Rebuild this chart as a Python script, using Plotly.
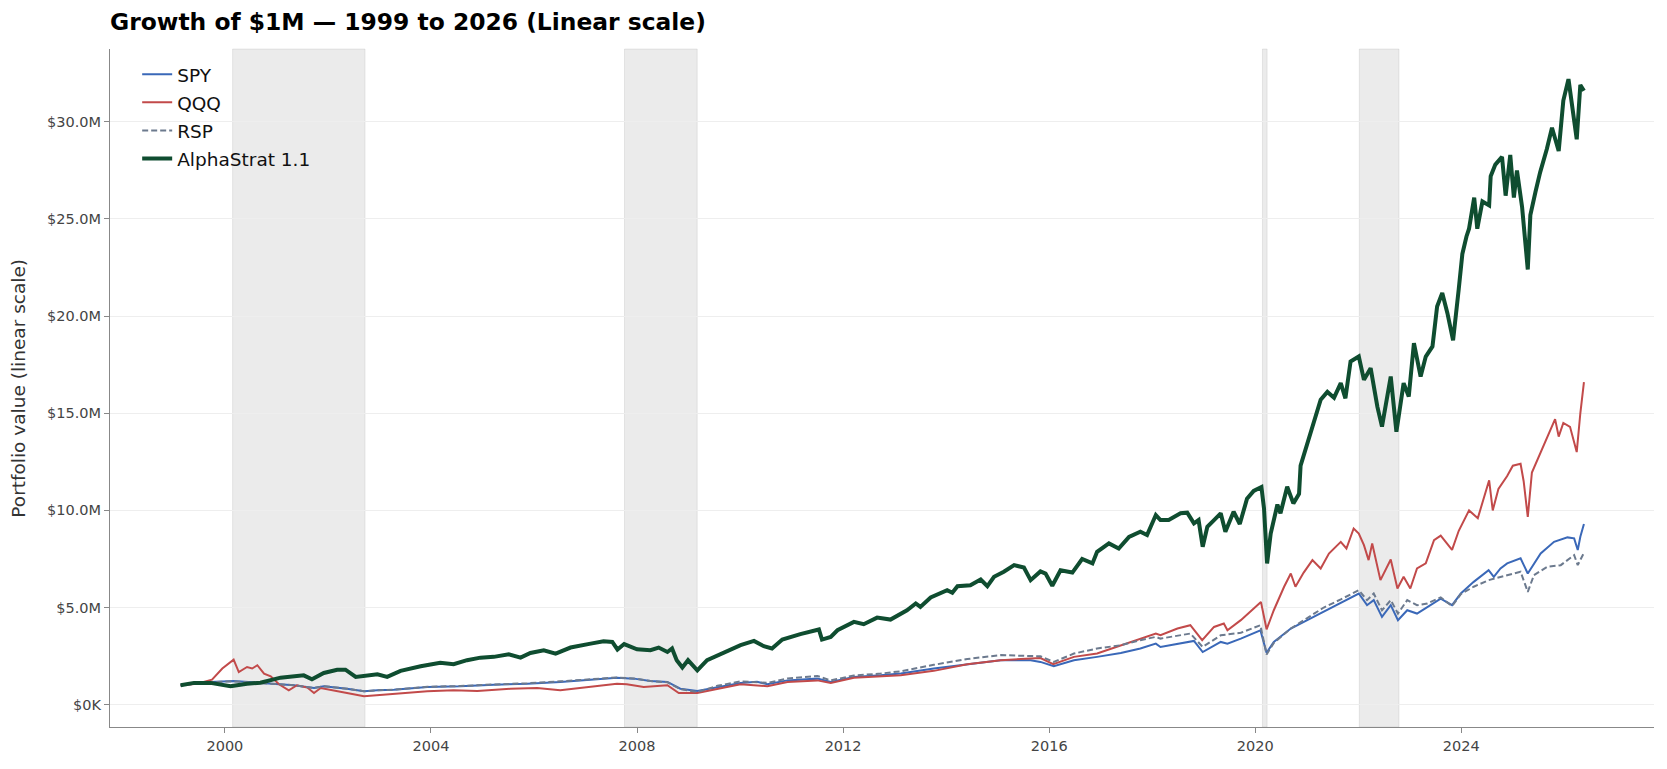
import plotly.graph_objects as go

# ---------------- data (values in $M, x in decimal years) ----------------
spy_years = [1999.14, 1999.72, 2000.17, 2000.69, 2001.08, 2001.34, 2001.73, 2001.92, 2002.37, 2002.70,
             2002.96, 2003.28, 2003.93, 2004.57, 2005.22, 2005.87, 2006.51, 2007.16, 2007.61, 2007.94,
             2008.26, 2008.59, 2008.84, 2009.17, 2009.56, 2010.01, 2010.33, 2010.53, 2010.92, 2011.50,
             2011.76, 2012.21, 2012.73, 2013.12, 2013.76, 2014.41, 2015.06, 2015.64, 2015.83, 2016.09,
             2016.48, 2016.93, 2017.39, 2017.77, 2018.07, 2018.16, 2018.55, 2018.81, 2018.98, 2019.33,
             2019.46, 2019.72, 2020.10, 2020.22, 2020.36, 2020.69, 2021.01, 2021.33, 2021.66, 2022.01,
             2022.17, 2022.30, 2022.46, 2022.63, 2022.77, 2022.95, 2023.14, 2023.34, 2023.60, 2023.82,
             2023.99, 2024.24, 2024.53, 2024.63, 2024.76, 2024.89, 2025.15, 2025.29, 2025.41, 2025.54,
             2025.80, 2026.06, 2026.19, 2026.26, 2026.31, 2026.38]
spy_values = [1.00, 1.17, 1.22, 1.13, 1.05, 1.00, 0.86, 0.95, 0.82, 0.69,
              0.74, 0.77, 0.91, 0.95, 1.03, 1.08, 1.17, 1.31, 1.39, 1.34,
              1.22, 1.17, 0.82, 0.70, 0.91, 1.12, 1.18, 1.05, 1.25, 1.34,
              1.17, 1.43, 1.51, 1.60, 1.86, 2.08, 2.29, 2.29, 2.20, 1.98,
              2.29, 2.46, 2.66, 2.89, 3.14, 2.97, 3.14, 3.28, 2.71, 3.23,
              3.14, 3.40, 3.83, 2.67, 3.23, 3.92, 4.35, 4.78, 5.25, 5.72,
              5.12, 5.38, 4.52, 5.12, 4.35, 4.86, 4.69, 5.03, 5.46, 5.12,
              5.72, 6.32, 6.92, 6.58, 7.01, 7.27, 7.53, 6.75, 7.27, 7.78,
              8.38, 8.61, 8.56, 7.96, 8.64, 9.30]

qqq_years = [1999.14, 1999.46, 1999.75, 1999.95, 2000.17, 2000.27, 2000.43, 2000.53, 2000.63, 2000.76,
             2000.89, 2001.05, 2001.24, 2001.40, 2001.60, 2001.73, 2001.86, 2002.12, 2002.37, 2002.70,
             2002.96, 2003.28, 2003.93, 2004.44, 2004.90, 2005.54, 2006.06, 2006.51, 2007.16, 2007.61,
             2007.80, 2008.13, 2008.59, 2008.81, 2009.17, 2009.56, 2010.01, 2010.53, 2010.92, 2011.50,
             2011.76, 2012.21, 2012.73, 2013.12, 2013.76, 2014.41, 2015.06, 2015.64, 2015.83, 2016.08,
             2016.48, 2016.93, 2017.39, 2017.77, 2018.07, 2018.16, 2018.49, 2018.74, 2018.97, 2019.20,
             2019.39, 2019.46, 2019.72, 2020.11, 2020.22, 2020.36, 2020.56, 2020.69, 2020.78, 2020.94,
             2021.11, 2021.27, 2021.43, 2021.66, 2021.77, 2021.91, 2022.01, 2022.11, 2022.20, 2022.27,
             2022.43, 2022.63, 2022.76, 2022.88, 2023.01, 2023.14, 2023.31, 2023.47, 2023.60, 2023.82,
             2023.95, 2024.15, 2024.32, 2024.54, 2024.61, 2024.72, 2024.89, 2025.00, 2025.15, 2025.21,
             2025.29, 2025.37, 2025.53, 2025.66, 2025.82, 2025.89, 2025.98, 2026.11, 2026.24, 2026.31,
             2026.38]
qqq_values = [1.00, 1.08, 1.29, 1.86, 2.32, 1.68, 1.94, 1.86, 2.03, 1.60,
              1.46, 1.05, 0.74, 1.00, 0.88, 0.60, 0.86, 0.74, 0.60, 0.43,
              0.48, 0.53, 0.69, 0.74, 0.70, 0.82, 0.86, 0.74, 0.95, 1.08,
              1.05, 0.91, 1.00, 0.60, 0.60, 0.82, 1.05, 0.95, 1.17, 1.25,
              1.12, 1.39, 1.46, 1.51, 1.74, 2.08, 2.29, 2.37, 2.40, 2.08,
              2.46, 2.63, 3.06, 3.40, 3.66, 3.57, 3.92, 4.09, 3.32, 4.00,
              4.18, 3.83, 4.35, 5.29, 3.88, 4.86, 6.07, 6.75, 6.07, 6.80,
              7.44, 7.01, 7.78, 8.38, 8.04, 9.07, 8.81, 8.21, 7.44, 8.30,
              6.41, 7.47, 5.98, 6.58, 5.98, 7.01, 7.27, 8.47, 8.70, 7.97,
              8.95, 10.00, 9.60, 11.55, 10.00, 11.10, 11.77, 12.30, 12.40, 11.50,
              9.66, 11.95, 12.90, 13.70, 14.70, 13.80, 14.50, 14.30, 13.00, 15.00,
              16.60]

rsp_years = [1999.14, 1999.72, 2000.17, 2000.69, 2001.08, 2001.34, 2001.73, 2001.92, 2002.37, 2002.70,
             2002.96, 2003.28, 2003.93, 2004.57, 2005.22, 2005.87, 2006.51, 2007.16, 2007.61, 2007.94,
             2008.26, 2008.59, 2008.84, 2009.17, 2009.56, 2010.01, 2010.53, 2010.92, 2011.50, 2011.76,
             2012.21, 2012.73, 2013.12, 2013.76, 2014.41, 2015.06, 2015.64, 2015.83, 2016.09, 2016.48,
             2016.93, 2017.39, 2017.77, 2018.07, 2018.16, 2018.74, 2018.98, 2019.33, 2019.72, 2020.10,
             2020.22, 2020.36, 2020.69, 2021.01, 2021.33, 2021.66, 2022.01, 2022.17, 2022.30, 2022.46,
             2022.63, 2022.77, 2022.95, 2023.14, 2023.34, 2023.60, 2023.82, 2023.99, 2024.24, 2024.53,
             2024.76, 2024.89, 2025.15, 2025.29, 2025.41, 2025.67, 2025.93, 2026.19, 2026.26, 2026.38]
rsp_values = [1.00, 1.16, 1.20, 1.12, 1.05, 1.00, 0.86, 0.95, 0.82, 0.69,
              0.74, 0.77, 0.92, 0.96, 1.04, 1.10, 1.20, 1.33, 1.40, 1.35,
              1.22, 1.15, 0.80, 0.65, 0.97, 1.20, 1.12, 1.35, 1.48, 1.25,
              1.50, 1.60, 1.72, 2.05, 2.35, 2.55, 2.50, 2.49, 2.20, 2.63,
              2.89, 3.06, 3.32, 3.49, 3.40, 3.66, 2.97, 3.57, 3.70, 4.09,
              2.58, 3.18, 3.92, 4.48, 5.00, 5.42, 5.89, 5.38, 5.72, 4.86,
              5.38, 4.69, 5.38, 5.12, 5.21, 5.52, 5.07, 5.69, 6.07, 6.41,
              6.58, 6.67, 6.84, 5.81, 6.67, 7.10, 7.18, 7.70, 7.18, 7.82]

alpha_years = [1999.14, 1999.40, 1999.72, 2000.11, 2000.43, 2000.69, 2001.08, 2001.34, 2001.53, 2001.69,
               2001.92, 2002.18, 2002.34, 2002.54, 2002.73, 2002.96, 2003.15, 2003.41, 2003.80, 2004.18,
               2004.44, 2004.70, 2004.96, 2005.22, 2005.51, 2005.74, 2005.93, 2006.19, 2006.42, 2006.71,
               2007.10, 2007.35, 2007.52, 2007.62, 2007.75, 2008.00, 2008.26, 2008.42, 2008.59, 2008.68,
               2008.77, 2008.88, 2008.99, 2009.07, 2009.17, 2009.36, 2009.69, 2010.01, 2010.27, 2010.46,
               2010.62, 2010.82, 2011.17, 2011.53, 2011.59, 2011.76, 2011.89, 2012.21, 2012.40, 2012.66,
               2012.92, 2013.24, 2013.41, 2013.50, 2013.70, 2014.02, 2014.12, 2014.22, 2014.47, 2014.67,
               2014.80, 2014.93, 2015.12, 2015.32, 2015.51, 2015.64, 2015.83, 2015.93, 2016.06, 2016.22,
               2016.45, 2016.64, 2016.84, 2016.93, 2017.16, 2017.35, 2017.55, 2017.77, 2017.90, 2018.07,
               2018.16, 2018.32, 2018.55, 2018.68, 2018.81, 2018.90, 2018.98, 2019.07, 2019.20, 2019.33,
               2019.42, 2019.58, 2019.70, 2019.84, 2019.97, 2020.12, 2020.17, 2020.23, 2020.30, 2020.43,
               2020.49, 2020.62, 2020.74, 2020.85, 2020.88, 2020.98, 2021.11, 2021.27, 2021.40, 2021.53,
               2021.66, 2021.75, 2021.85, 2022.01, 2022.11, 2022.24, 2022.37, 2022.46, 2022.63, 2022.74,
               2022.88, 2022.98, 2023.08, 2023.21, 2023.31, 2023.44, 2023.53, 2023.63, 2023.73, 2023.84,
               2023.95, 2024.02, 2024.10, 2024.15, 2024.25, 2024.31, 2024.41, 2024.54, 2024.57, 2024.66,
               2024.79, 2024.86, 2024.95, 2025.02, 2025.08, 2025.18, 2025.29, 2025.34, 2025.44, 2025.53,
               2025.66, 2025.76, 2025.89, 2025.98, 2026.08, 2026.18, 2026.24, 2026.31, 2026.38]
alpha_values = [1.00, 1.12, 1.12, 0.95, 1.08, 1.13, 1.39, 1.48, 1.51, 1.31,
                1.63, 1.80, 1.80, 1.43, 1.51, 1.56, 1.43, 1.74, 1.98, 2.16,
                2.08, 2.29, 2.42, 2.46, 2.59, 2.42, 2.66, 2.80, 2.63, 2.94,
                3.14, 3.26, 3.23, 2.84, 3.12, 2.85, 2.80, 2.94, 2.71, 2.89,
                2.29, 1.91, 2.29, 2.08, 1.77, 2.29, 2.66, 3.06, 3.28, 3.01,
                2.89, 3.35, 3.63, 3.87, 3.35, 3.49, 3.83, 4.26, 4.14, 4.48,
                4.38, 4.86, 5.21, 5.03, 5.52, 5.89, 5.76, 6.10, 6.15, 6.44,
                6.10, 6.58, 6.84, 7.18, 7.06, 6.41, 6.86, 6.75, 6.12, 6.92,
                6.80, 7.50, 7.27, 7.87, 8.30, 8.04, 8.64, 8.90, 8.73, 9.76,
                9.50, 9.50, 9.85, 9.88, 9.33, 9.50, 8.13, 9.16, 9.50, 9.85,
                8.90, 9.93, 9.30, 10.60, 11.00, 11.20, 10.10, 7.27, 8.81, 10.30,
                9.85, 11.22, 10.36, 10.85, 12.30, 13.20, 14.30, 15.70, 16.10, 15.80,
                16.55, 15.77, 17.66, 17.92, 16.72, 17.32, 15.34, 14.31, 16.89, 14.05,
                16.55, 15.86, 18.61, 16.89, 17.92, 18.44, 20.50, 21.19, 20.15, 18.75,
                21.40, 23.20, 24.10, 24.50, 26.10, 24.50, 25.90, 25.70, 27.20, 27.80,
                28.20, 26.20, 28.30, 26.10, 27.50, 25.60, 22.40, 25.20, 26.40, 27.40,
                28.60, 29.70, 28.50, 31.10, 32.20, 30.20, 29.10, 31.90, 31.60]

shade_starts = [2000.15, 2007.757, 2020.14, 2022.02]
shade_ends = [2002.72, 2009.168, 2020.23, 2022.79]

y_tick_vals = [0, 5, 10, 15, 20, 25, 30]
y_tick_text = ["$0K", "$5.0M", "$10.0M", "$15.0M", "$20.0M", "$25.0M", "$30.0M"]
x_tick_vals = [2000, 2004, 2008, 2012, 2016, 2020, 2024]
x_tick_text = ["2000", "2004", "2008", "2012", "2016", "2020", "2024"]

# ---------------- figure ----------------
FONT = "DejaVu Sans"
fig = go.Figure()

fig.add_trace(go.Scatter(x=spy_years, y=spy_values, mode="lines", name="SPY", legendgroup="a",
                         line=dict(color="#3a68b8", width=2.0)))
fig.add_trace(go.Scatter(x=qqq_years, y=qqq_values, mode="lines", name="QQQ", legendgroup="b",
                         line=dict(color="#c24a4a", width=2.0)))
fig.add_trace(go.Scatter(x=rsp_years, y=rsp_values, mode="lines", name="RSP", legendgroup="c",
                         line=dict(color="#6c7a8e", width=2.0, dash="6px,3px")))
fig.add_trace(go.Scatter(x=alpha_years, y=alpha_values, mode="lines", name="AlphaStrat 1.1", legendgroup="d",
                         line=dict(color="#0f4d30", width=4.0)))

for s, e in zip(shade_starts, shade_ends):
    fig.add_vrect(x0=s, x1=e, fillcolor="rgba(128,128,128,0.16)",
                  line=dict(color="rgba(128,128,128,0.16)", width=1), layer="below")

fig.update_layout(
    width=1667, height=769,
    paper_bgcolor="white", plot_bgcolor="white",
    margin=dict(l=110, r=13, t=49, b=42),
    font=dict(family=FONT, color="#444444"),
    title=dict(text="<b>Growth of $1M — 1999 to 2026 (Linear scale)</b>",
               x=110 / 1667, xanchor="left", xref="container",
               y=1 - 22 / 769, yanchor="middle", yref="container",
               font=dict(family=FONT, size=23.4, color="#000000")),
    showlegend=True,
    legend=dict(x=0.0176, y=0.99, xanchor="left", yanchor="top",
                bgcolor="rgba(255,255,255,0)", borderwidth=0,
                font=dict(family=FONT, size=18.5, color="#111111"),
                tracegroupgap=1, itemwidth=30),
    annotations=[dict(text="Portfolio value (linear scale)", textangle=-90,
                      xref="paper", yref="paper", x=(19 - 110) / (1654 - 110), y=0.499,
                      xanchor="center", yanchor="middle", showarrow=False,
                      font=dict(family=FONT, size=18.5, color="#333333"))],
)

fig.update_xaxes(range=[1997.77, 2027.74], tickmode="array", tickvals=x_tick_vals, ticktext=x_tick_text,
                 showgrid=False, zeroline=False, showline=True, linecolor="#888888", linewidth=1.2,
                 ticks="outside", ticklen=5, tickcolor="#888888",
                 tickfont=dict(family=FONT, size=14.5, color="#444444"))
fig.update_yaxes(range=[-1.15, 33.75], tickmode="array", tickvals=y_tick_vals, ticktext=y_tick_text,
                 showgrid=True, gridcolor="#eeeeee", gridwidth=1, zeroline=False,
                 showline=True, linecolor="#888888", linewidth=1.2,
                 ticks="outside", ticklen=5, tickcolor="#888888",
                 tickfont=dict(family=FONT, size=14.5, color="#444444"))

fig.write_html("out.html")
